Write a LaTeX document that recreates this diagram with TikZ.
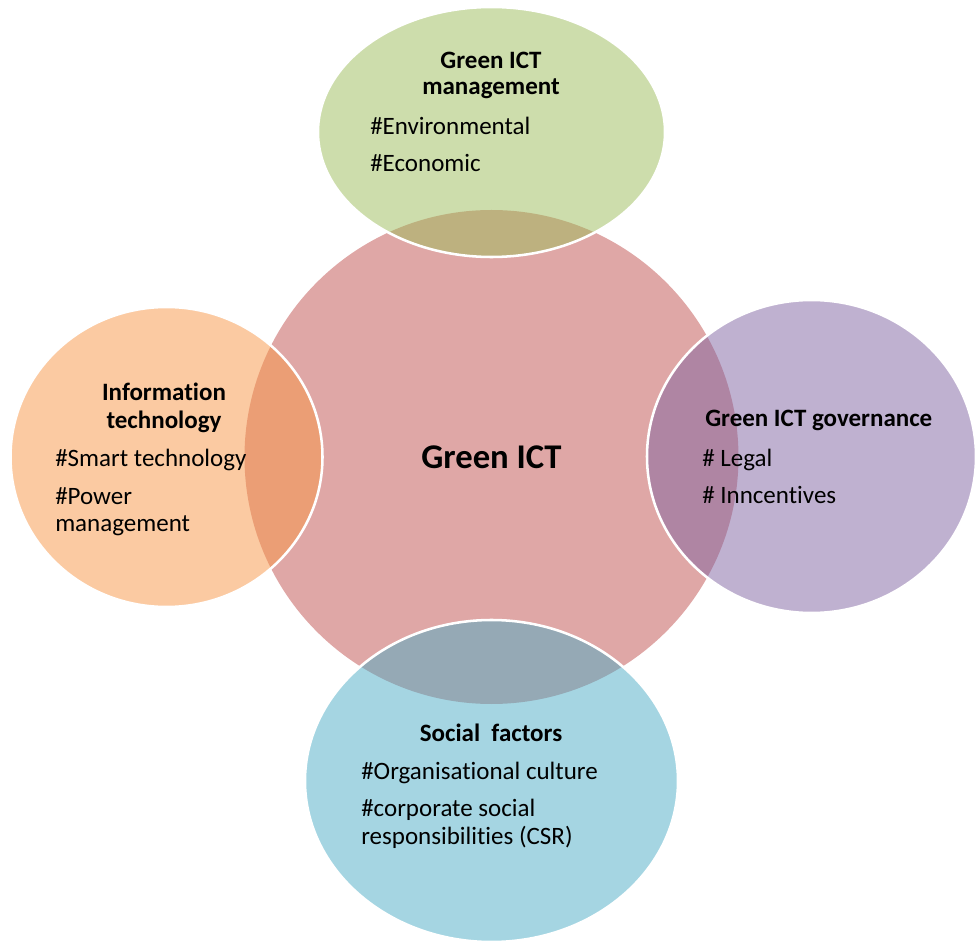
\documentclass[tikz,border=0pt]{standalone}
\usepackage{fontspec}
\setmainfont{Carlito}[Ligatures={NoCommon}]
\definecolor{hubred}{HTML}{C0504D}
\definecolor{mgmtgreen}{HTML}{9BBB59}
\definecolor{govpurple}{HTML}{8064A2}
\definecolor{socblue}{HTML}{4BACC6}
\definecolor{itorange}{HTML}{F79646}
\begin{document}
\begin{tikzpicture}[x=0.75pt,y=-0.75pt,
  bubble/.style={fill=#1, fill opacity=0.5, draw=white, draw opacity=1, line width=1.9pt},
  txt/.style={font=\fontsize{18.75}{22}\selectfont, inner sep=0pt, text=black},
  head/.style={font=\fontsize{18.75}{22}\selectfont\bfseries, inner sep=0pt, text=black}]
\useasboundingbox (0,0) rectangle (976,941);

% central hub
\fill[hubred, fill opacity=0.5] (491.5,457) circle[radius=247];

% surrounding bubbles, translucent over the hub
\path[bubble=mgmtgreen] (491.5,132) ellipse[x radius=173.5, y radius=125];
\path[bubble=govpurple] (811.5,456.5) ellipse[x radius=164.5, y radius=156.5];
\path[bubble=socblue] (491.5,781) ellipse[x radius=186.5, y radius=161];
\path[bubble=itorange] (166.5,457) ellipse[x radius=156, y radius=150];

% hub label
\node[font=\fontsize{26}{30}\selectfont\bfseries, inner sep=0pt, anchor=base] (hub) at (491.5,469) {Green ICT};

% management
\node[head, anchor=base] (mh1) at (491,69) {Green ICT};
\node[head, anchor=base] (mh2) at (491,95) {management};
\node[txt, anchor=base west] (m1) at (370,135) {\#Environmental};
\node[txt, anchor=base west] (m2) at (370,172) {\#Economic};

% information technology
\node[head, anchor=base] (ih1) at (164,401) {Information};
\node[head, anchor=base] (ih2) at (164,429) {technology};
\node[txt, anchor=base west] (i1) at (55,467) {\#Smart technology};
\node[txt, anchor=base west] (i2) at (55,505) {\#Power};
\node[txt, anchor=base west] (i3) at (55,532) {management};

% governance
\node[head, anchor=base west] (gh) at (705,427) {Green ICT governance};
\node[txt, anchor=base west] (g1) at (702,467) {\# Legal};
\node[txt, anchor=base west] (g2) at (702,504) {\# Inncentives};

% social factors
\node[head, anchor=base] (sh) at (491,741) {Social\ \ factors};
\node[txt, anchor=base west] (s1) at (361,779) {\#Organisational culture};
\node[txt, anchor=base west] (s2) at (361,816) {\#corporate social};
\node[txt, anchor=base west] (s3) at (361,844) {responsibilities (CSR)};
\end{tikzpicture}
\end{document}
